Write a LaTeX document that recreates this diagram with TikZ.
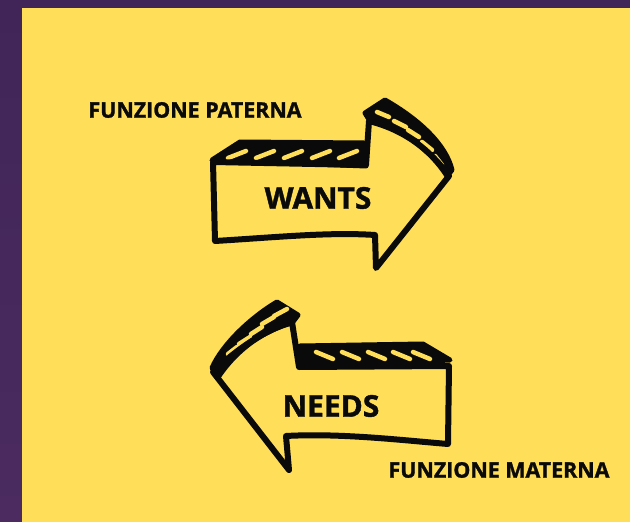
\documentclass[tikz,border=0pt]{standalone}
\usepackage{fontspec}
\setmainfont{Open Sans}
\newfontfamily\grassetto[BoldFeatures={FakeBold=1.3}]{Open Sans}
\usetikzlibrary{shapes}

\definecolor{fondo}{HTML}{412558}
\definecolor{fondob}{HTML}{4B2B60}
\definecolor{giallo}{HTML}{FFDE59}
\definecolor{nero}{HTML}{0A0A0A}

\tikzset{
  bordo/.style={draw=nero, line width=6pt, line join=round, line cap=round},
  tratteggio/.style={fill=nero, draw=nero, line width=5pt, line join=round},
  fessura/.style={draw=giallo, line width=4.5pt, line cap=round},
  etichetta/.style={font=\grassetto\bfseries\fontsize{21.4}{26}\selectfont, text=nero, inner sep=0pt},
  parola/.style={font=\grassetto\bfseries\fontsize{30}{35}\selectfont, text=nero, inner sep=0pt}
}

\begin{document}
\begin{tikzpicture}[x=1pt, y=-1pt]
      % Sfondo
      \useasboundingbox (0,0) rectangle (630,522);
      \shade[top color=fondo, bottom color=fondob] (0,0) rectangle (630,522);
      \fill[giallo] (22,8) rectangle (630,522);

      % Freccia destra (wants)
      \draw[tratteggio] (212,160) -- (240,142) -- (364,143) -- (366,166) -- cycle;
      \draw[tratteggio] (365,113) -- (385,100) .. controls (420,120) and (446,145) .. (452,170)
            -- (447,176) .. controls (430,150) and (405,130) .. (370,121) -- cycle;
      \foreach \x in {228,256,284,312,339}
        \draw[fessura] (\x,158) -- ++(18,-7);
      \foreach \a/\b/\c/\d in {377/112/389/117, 394/121/406/127, 408/130/419/137, 422/142/432/150, 435/156/442/165}
        \draw[fessura] (\a,\b) -- (\c,\d);
      \draw[bordo] (213,162) -- (366,165) -- (369,121) .. controls (405,130) and (430,150) .. (449,176)
            -- (376,268) -- (375,235) .. controls (330,232) and (280,237) .. (215,241) -- cycle;

      % Freccia sinistra (needs)
      \draw[tratteggio] (300,346) -- (423,344) -- (450,360) -- (300,367) -- cycle;
      \draw[tratteggio] (277,302) -- (298,315) -- (292,323) .. controls (265,330) and (238,348) .. (219,376)
            -- (212,368) .. controls (222,345) and (250,318) .. cycle;
      \foreach \x in {316,342,368,393,413}
        \draw[fessura] (\x,352) -- ++(17,7);
      \foreach \a/\b/\c/\d in {274/316/287/309, 262/324/274/317, 251/334/262/327, 239/344/250/337, 228/354/237/347}
        \draw[fessura] (\a,\b) -- (\c,\d);
      \draw[bordo] (213,372) .. controls (238,348) and (265,330) .. (292,322) -- (299,367) -- (449,366)
            -- (448,444) .. controls (400,440) and (340,433) .. (286,436) -- (289,470) -- cycle;

      % Testi
      \node[etichetta] (paterna) at (195,110) {FUNZIONE PATERNA};
      \node[parola] (wants) at (318,198) {WANTS};
      \node[parola] (needs) at (331,406) {NEEDS};
      \node[etichetta] (materna) at (499,470) {FUNZIONE MATERNA};
\end{tikzpicture}
\end{document}
